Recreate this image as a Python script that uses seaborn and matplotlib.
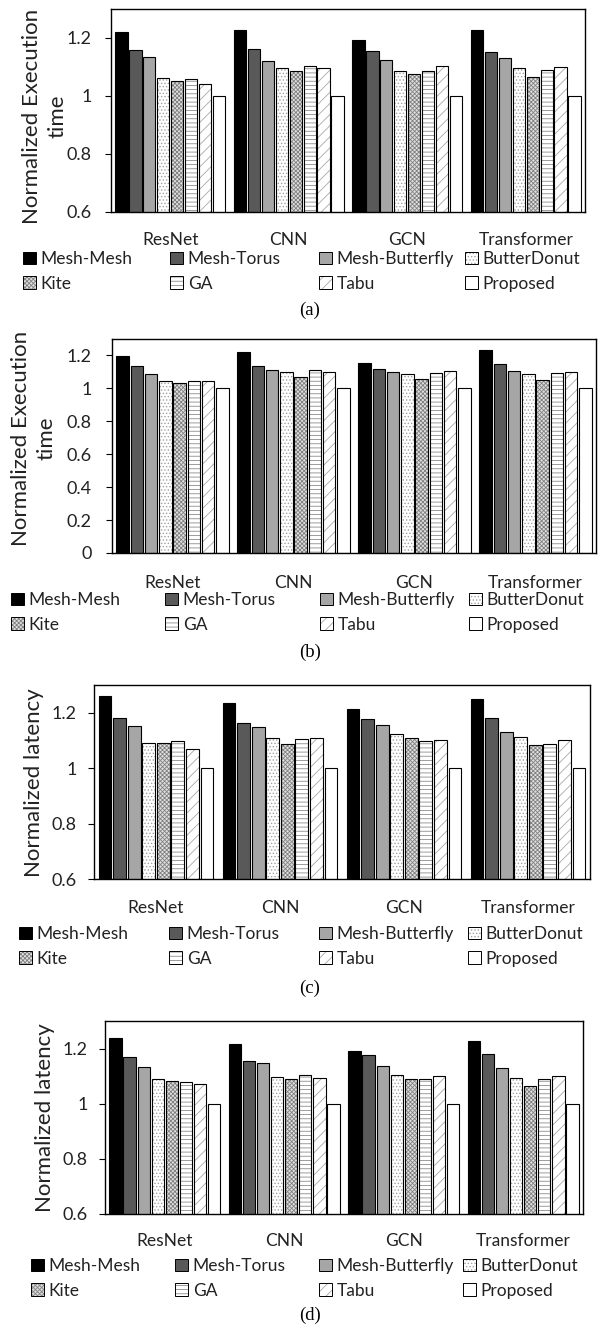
import numpy as np
import pandas as pd
import matplotlib
matplotlib.use("Agg")
import matplotlib.pyplot as plt
import matplotlib.patches as mpatches
from matplotlib.colors import to_rgba
from matplotlib.ticker import FuncFormatter, MultipleLocator
import seaborn as sns

# ---------------- data ----------------
categories = ["ResNet", "CNN", "GCN", "Transformer"]
methods = ["Mesh-Mesh", "Mesh-Torus", "Mesh-Butterfly", "ButterDonut",
           "Kite", "GA", "Tabu", "Proposed"]

# (a) normalized execution time
exec_a_mesh_mesh = [1.220, 1.227, 1.192, 1.227]
exec_a_mesh_torus = [1.160, 1.163, 1.154, 1.152]
exec_a_mesh_butterfly = [1.134, 1.119, 1.125, 1.130]
exec_a_butterdonut = [1.062, 1.096, 1.085, 1.095]
exec_a_kite = [1.051, 1.087, 1.077, 1.065]
exec_a_ga = [1.058, 1.105, 1.087, 1.088]
exec_a_tabu = [1.041, 1.095, 1.102, 1.099]
exec_a_proposed = [1.0, 1.0, 1.0, 1.0]

# (b) normalized execution time
exec_b_mesh_mesh = [1.194, 1.221, 1.154, 1.231]
exec_b_mesh_torus = [1.134, 1.136, 1.117, 1.146]
exec_b_mesh_butterfly = [1.087, 1.111, 1.097, 1.103]
exec_b_butterdonut = [1.045, 1.099, 1.087, 1.087]
exec_b_kite = [1.032, 1.069, 1.059, 1.049]
exec_b_ga = [1.043, 1.109, 1.091, 1.093]
exec_b_tabu = [1.045, 1.099, 1.103, 1.101]
exec_b_proposed = [1.0, 1.0, 1.0, 1.0]

# (c) normalized latency
lat_c_mesh_mesh = [1.260, 1.236, 1.212, 1.248]
lat_c_mesh_torus = [1.180, 1.164, 1.177, 1.182]
lat_c_mesh_butterfly = [1.153, 1.149, 1.155, 1.131]
lat_c_butterdonut = [1.092, 1.107, 1.124, 1.114]
lat_c_kite = [1.092, 1.088, 1.107, 1.084]
lat_c_ga = [1.099, 1.106, 1.098, 1.088]
lat_c_tabu = [1.070, 1.110, 1.102, 1.100]
lat_c_proposed = [1.0, 1.0, 1.0, 1.0]

# (d) normalized latency
lat_d_mesh_mesh = [1.239, 1.218, 1.191, 1.227]
lat_d_mesh_torus = [1.169, 1.154, 1.177, 1.181]
lat_d_mesh_butterfly = [1.132, 1.149, 1.135, 1.131]
lat_d_butterdonut = [1.090, 1.097, 1.103, 1.095]
lat_d_kite = [1.081, 1.088, 1.088, 1.065]
lat_d_ga = [1.079, 1.105, 1.088, 1.088]
lat_d_tabu = [1.070, 1.095, 1.101, 1.100]
lat_d_proposed = [1.0, 1.0, 1.0, 1.0]

panels_values = {
    "a": [exec_a_mesh_mesh, exec_a_mesh_torus, exec_a_mesh_butterfly, exec_a_butterdonut,
          exec_a_kite, exec_a_ga, exec_a_tabu, exec_a_proposed],
    "b": [exec_b_mesh_mesh, exec_b_mesh_torus, exec_b_mesh_butterfly, exec_b_butterdonut,
          exec_b_kite, exec_b_ga, exec_b_tabu, exec_b_proposed],
    "c": [lat_c_mesh_mesh, lat_c_mesh_torus, lat_c_mesh_butterfly, lat_c_butterdonut,
          lat_c_kite, lat_c_ga, lat_c_tabu, lat_c_proposed],
    "d": [lat_d_mesh_mesh, lat_d_mesh_torus, lat_d_mesh_butterfly, lat_d_butterdonut,
          lat_d_kite, lat_d_ga, lat_d_tabu, lat_d_proposed],
}
ylabels = {"a": "Normalized Execution\ntime", "b": "Normalized Execution\ntime",
           "c": "Normalized latency", "d": "Normalized latency"}

# ---------------- style ----------------
sns.set_theme(style="white")
FONT = ["Lato", "DejaVu Sans"]
plt.rcParams["font.family"] = FONT
plt.rcParams["hatch.linewidth"] = 0.6

face_colors = ["#000000", "#595959", "#a6a6a6", "#ffffff",
               "#e0e0e0", "#ffffff", "#ffffff", "#ffffff"]
hatches = [None, None, None, ".....", "xxxxxxxx", "----", "///", None]
hatch_colors = ["black", "black", "black", "#a0a0a0", "#808080", "#8c8c8c", "#a8a8a8", "black"]

W, H = 598, 1325
fig = plt.figure(figsize=(W / 100, H / 100), dpi=100)


def rect(l, t, r, b):
    return [l / W, 1 - b / H, (r - l) / W, (b - t) / H]


def set_hcolor(p, c):
    if hasattr(p, "set_hatchcolor"):
        p.set_hatchcolor(c)
    else:
        p._hatch_color = to_rgba(c)


layout = {
    "a": dict(box=(111, 9, 585, 212), ylim=(0.6, 1.3), step=0.2, pad=10,
              ylab=(45, 116), legx=[23, 170, 319, 465], leg_y=257, cap_y=310, lab_pad=14.5),
    "b": dict(box=(112, 339, 596, 553), ylim=(0.0, 1.3), step=0.2, pad=10.5,
              ylab=(34, 438), legx=[11, 165, 320, 469], leg_y=598, cap_y=652, lab_pad=16),
    "c": dict(box=(94, 685, 590, 879), ylim=(0.6, 1.3), step=0.2, pad=8.5,
              ylab=(34, 783), legx=[19, 169, 319, 468], leg_y=932, cap_y=988, lab_pad=15),
    "d": dict(box=(105, 1021, 583, 1214), ylim=(0.6, 1.3), step=0.2, pad=8.5,
              ylab=(45, 1118), legx=[31, 175, 319, 463], leg_y=1264, cap_y=1315, lab_pad=14),
}

fmt = FuncFormatter(lambda v, _: ("%g" % round(v, 2)))

for key in ["a", "b", "c", "d"]:
    L = layout[key]
    vals = panels_values[key]
    rows = []
    for m, series in zip(methods, vals):
        for c, v in zip(categories, series):
            rows.append({"Workload": c, "Method": m, "Value": v})
    df = pd.DataFrame(rows)

    ax = fig.add_axes(rect(*L["box"]))
    sns.barplot(data=df, x="Workload", y="Value", hue="Method",
                order=categories, hue_order=methods,
                palette=face_colors, saturation=1, edgecolor="black",
                linewidth=0.8, width=0.94, gap=0.12, legend=False, ax=ax)
    for i, cont in enumerate(ax.containers):
        for p in cont:
            p.set_facecolor(face_colors[i])
            if hatches[i]:
                p.set_hatch(hatches[i])
                set_hcolor(p, hatch_colors[i])

    ax.set_ylim(*L["ylim"])
    ax.set_xlim(-0.5, 3.5)
    ax.yaxis.set_major_locator(MultipleLocator(L["step"]))
    ax.yaxis.set_major_formatter(fmt)
    ax.set_xlabel("")
    ax.set_ylabel("")
    for s in ax.spines.values():
        s.set_visible(True)
        s.set_color("black")
        s.set_linewidth(1.0)
    ax.tick_params(axis="y", which="both", left=True, direction="out", length=4,
                   width=0.8, color="black", labelsize=13, pad=L["pad"], labelcolor="#222222")
    ax.tick_params(axis="x", length=0, labelsize=12.5, pad=L["lab_pad"], labelcolor="#222222")
    ax.grid(False)

    # y-axis title
    fig.text(L["ylab"][0] / W, 1 - L["ylab"][1] / H, ylabels[key], rotation=90,
             ha="center", va="center", multialignment="center", fontsize=16,
             linespacing=1.35, color="#222222", family=FONT)

    # legend (4 columns, placed individually)
    handles = []
    for i, m in enumerate(methods):
        h = mpatches.Patch(facecolor=face_colors[i], edgecolor="black", linewidth=0.7,
                           hatch=hatches[i], label=m)
        if hatches[i]:
            set_hcolor(h, hatch_colors[i])
        handles.append(h)
    for col in range(4):
        fig.legend(handles=[handles[col], handles[col + 4]],
                   loc="upper left",
                   bbox_to_anchor=(L["legx"][col] / W, 1 - (L["leg_y"] - 6) / H),
                   bbox_transform=fig.transFigure, frameon=False, fontsize=12.5,
                   handlelength=0.72, handleheight=0.72, handletextpad=0.3,
                   borderpad=0, borderaxespad=0, labelspacing=0.5,
                   labelcolor="#222222")

    # caption
    fig.text(310 / W, 1 - L["cap_y"] / H, "(%s)" % key, ha="center", va="center",
             fontsize=13.5, family=["Liberation Serif", "DejaVu Serif"], color="black")

fig.savefig("out.png", dpi=100, facecolor="white")
